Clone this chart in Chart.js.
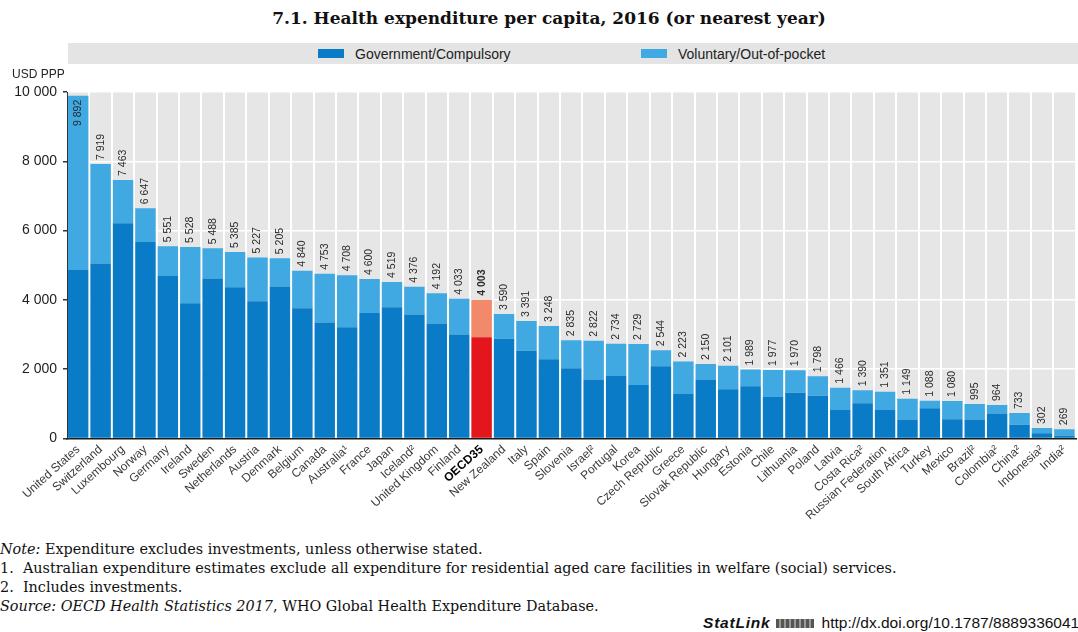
<!DOCTYPE html>
<html>
<head>
<meta charset="utf-8">
<script src="https://cdn.jsdelivr.net/npm/chart.js@4.4.1/dist/chart.umd.min.js"></script>
<style>
  html, body { margin: 0; padding: 0; background: #fff; }
  body { width: 1078px; height: 632px; position: relative; overflow: hidden; }
  #title {
    position: absolute; left: 0; top: 8px; width: 1098px; text-align: center;
    font: bold 17px "DejaVu Serif", serif; color: #111;
  }
  #legend {
    position: absolute; left: 68px; top: 43px; width: 1010px; height: 21px;
    background: #e4e4e4;
  }
  .swatch { position: absolute; top: 6px; width: 26px; height: 9px; }
  .legtext {
    position: absolute; top: 3px; font: 14px "Liberation Sans", Arial, sans-serif; color: #222;
  }
  #unit {
    position: absolute; left: 12px; top: 67px;
    font: 12px "Liberation Sans", Arial, sans-serif; color: #222;
  }
  #wrap { position: absolute; left: 0; top: 0; width: 1078px; height: 530px; }
  #notes {
    position: absolute; left: 0; top: 540px;
    font: 14.4px "DejaVu Serif", serif; color: #111; line-height: 19px;
  }
  #notes div { white-space: nowrap; }
  #statlink {
    position: absolute; left: 703px; top: 614px; white-space: nowrap;
    font: 15.5px "Liberation Sans", Arial, sans-serif; color: #111;
  }
  #statlink b { font-style: italic; letter-spacing: 0.8px; }
  #statlink .ico {
    display: inline-block; width: 38px; height: 9px; margin: 0 8px 0 5px;
    background: repeating-linear-gradient(90deg, #555 0 3px, #999 3px 5px);
  }
</style>
</head>
<body>
<div id="title">7.1. Health expenditure per capita, 2016 (or nearest year)</div>
<div id="legend">
  <div class="swatch" style="left:250px;background:#0a7bc6"></div>
  <div class="legtext" style="left:287px">Government/Compulsory</div>
  <div class="swatch" style="left:573px;background:#40a9e2"></div>
  <div class="legtext" style="left:610px">Voluntary/Out-of-pocket</div>
</div>
<div id="wrap"><canvas id="chart"></canvas></div>
<div id="unit">USD PPP</div>
<div id="notes">
  <div><i>Note:</i> Expenditure excludes investments, unless otherwise stated.</div>
  <div>1.&nbsp; Australian expenditure estimates exclude all expenditure for residential aged care facilities in welfare (social) services.</div>
  <div>2.&nbsp; Includes investments.</div>
  <div><i>Source: OECD Health Statistics 2017</i>, WHO Global Health Expenditure Database.</div>
</div>
<div id="statlink"><b>StatLink</b><span class="ico"></span>http://dx.doi.org/10.1787/8889336041</div>

<script>
// Countries, sorted by total spending per capita
const countries = [
  'United States', 'Switzerland', 'Luxembourg', 'Norway', 'Germany', 'Ireland',
  'Sweden', 'Netherlands', 'Austria', 'Denmark', 'Belgium', 'Canada',
  'Australia\u00b9', 'France', 'Japan', 'Iceland\u00b2', 'United Kingdom', 'Finland',
  'OECD35', 'New Zealand', 'Italy', 'Spain', 'Slovenia', 'Israel\u00b2',
  'Portugal', 'Korea', 'Czech Republic', 'Greece', 'Slovak Republic', 'Hungary',
  'Estonia', 'Chile', 'Lithuania', 'Poland', 'Latvia', 'Costa Rica\u00b2',
  'Russian Federation', 'South Africa', 'Turkey', 'Mexico', 'Brazil\u00b2', 'Colombia\u00b2',
  'China\u00b2', 'Indonesia\u00b2', 'India\u00b2'
];

// Total health expenditure per capita (USD PPP)
const totalSpend = [
  9892, 7919, 7463, 6647, 5551, 5528,
  5488, 5385, 5227, 5205, 4840, 4753,
  4708, 4600, 4519, 4376, 4192, 4033,
  4003, 3590, 3391, 3248, 2835, 2822,
  2734, 2729, 2544, 2223, 2150, 2101,
  1989, 1977, 1970, 1798, 1466, 1390,
  1351, 1149, 1088, 1080, 995, 964,
  733, 302, 269
];

// Government/compulsory part of it
const govSpend = [
  4860, 5050, 6210, 5670, 4690, 3900,
  4615, 4365, 3960, 4385, 3760, 3345,
  3210, 3620, 3785, 3580, 3320, 3005,
  2920, 2880, 2530, 2290, 2025, 1700,
  1805, 1545, 2085, 1285, 1705, 1420,
  1505, 1200, 1320, 1235, 820, 1015,
  820, 535, 870, 555, 550, 720,
  400, 150, 80
];

// Voluntary/out-of-pocket is what remains of the total
const volSpend = totalSpend.map((t, i) => t - govSpend[i]);

const yTicks = [0, 2000, 4000, 6000, 8000, 10000];

const OECD_IDX = countries.indexOf('OECD35');
const GOV_BLUE = '#0a7bc6', VOL_BLUE = '#40a9e2';
const GOV_RED = '#e2161c', VOL_RED = '#f2896b';

function fmt(v) {
  return String(v).replace(/\B(?=(\d{3})+(?!\d))/g, ' ');
}

const plotBackground = {
  id: 'plotBackground',
  beforeDraw(chart) {
    const { ctx, chartArea: a } = chart;
    ctx.save();
    ctx.fillStyle = '#e6e6e7';
    ctx.fillRect(a.left, a.top, a.right - a.left, a.bottom - a.top);
    ctx.restore();
  }
};

// totals written vertically above each bar (inside the bar for the US)
const valueLabels = {
  id: 'valueLabels',
  afterDatasetsDraw(chart) {
    const { ctx } = chart;
    const top = chart.getDatasetMeta(1).data;
    ctx.save();
    ctx.fillStyle = '#2a2a2a';
    ctx.textBaseline = 'middle';
    top.forEach((bar, i) => {
      const bold = i === OECD_IDX;
      ctx.font = (bold ? 'bold ' : '') + '10.5px "Liberation Sans", Arial, sans-serif';
      ctx.save();
      if (i === 0) {
        ctx.translate(bar.x, bar.y + 4);
        ctx.rotate(-Math.PI / 2);
        ctx.textAlign = 'right';
      } else {
        ctx.translate(bar.x, bar.y - 4);
        ctx.rotate(-Math.PI / 2);
        ctx.textAlign = 'left';
      }
      ctx.fillText(fmt(totalSpend[i]), 0, 0);
      ctx.restore();
    });
    ctx.restore();
  }
};

new Chart(document.getElementById('chart'), {
  type: 'bar',
  data: {
    labels: countries,
    datasets: [
      {
        label: 'Government/Compulsory',
        data: govSpend,
        backgroundColor: countries.map((c, i) => i === OECD_IDX ? GOV_RED : GOV_BLUE)
      },
      {
        label: 'Voluntary/Out-of-pocket',
        data: volSpend,
        backgroundColor: countries.map((c, i) => i === OECD_IDX ? VOL_RED : VOL_BLUE)
      }
    ]
  },
  options: {
    responsive: true,
    maintainAspectRatio: false,
    animation: false,
    layout: { padding: { top: 92, right: 0, left: 0, bottom: 0 } },
    datasets: { bar: { barPercentage: 0.91, categoryPercentage: 1 } },
    plugins: {
      legend: { display: false },
      title: { display: false },
      tooltip: { enabled: false }
    },
    scales: {
      x: {
        stacked: true,
        afterFit(scale) { scale.height = 91.5; },
        grid: { offset: true, color: '#ffffff', lineWidth: 2, drawTicks: false },
        border: { color: '#1a1a1a', width: 1.5 },
        ticks: {
          autoSkip: false,
          maxRotation: 42,
          minRotation: 42,
          padding: 4,
          color: ctx => ctx.index === OECD_IDX ? '#000' : '#3a3a3a',
          font: ctx => ({
            family: '"Liberation Sans", Arial, sans-serif',
            size: 12,
            weight: ctx.index === OECD_IDX ? 'bold' : 'normal'
          })
        }
      },
      y: {
        stacked: true,
        min: 0,
        max: 10000,
        afterFit(scale) { scale.width = 67; },
        afterBuildTicks(scale) { scale.ticks = yTicks.map(v => ({ value: v })); },
        grid: { color: '#ffffff', lineWidth: 1.5, tickColor: '#333', tickLength: 4 },
        border: { color: '#333', width: 1 },
        ticks: {
          padding: 6,
          color: '#1e1e1e',
          font: { family: '"Liberation Sans", Arial, sans-serif', size: 14 },
          callback: v => fmt(v)
        }
      }
    }
  },
  plugins: [plotBackground, valueLabels]
});
</script>
</body>
</html>
